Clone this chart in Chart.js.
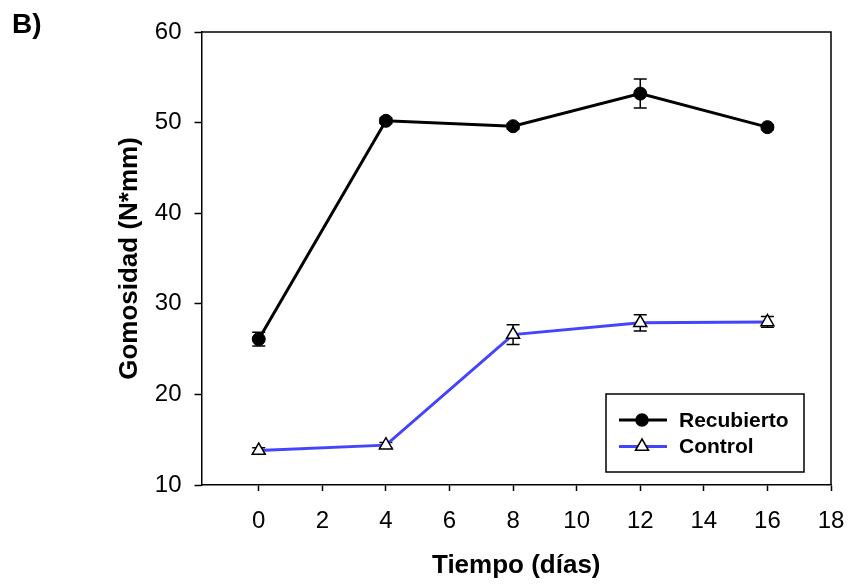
<!DOCTYPE html>
<html>
<head>
<meta charset="utf-8">
<script src="https://cdn.jsdelivr.net/npm/chart.js@4/dist/chart.umd.min.js"></script>
<style>
  body { margin: 0; background: #fff; }
  canvas { display: block; }
</style>
</head>
<body>
<canvas id="gomosidad" width="852" height="584"></canvas>
<script>
// datos
const dias = [0, 4, 8, 12, 16];
const recubierto = [26.1, 50.2, 49.6, 53.2, 49.5];
const recubiertoErr = [0.75, 0.3, 0.3, 1.6, 0.25];
const control = [13.8, 14.4, 26.6, 27.9, 28.0];
const controlErr = [0.3, 0.3, 1.1, 0.9, 0.6];
const xTicks = [0, 2, 4, 6, 8, 10, 12, 14, 16, 18];
const yTicks = [10, 20, 30, 40, 50, 60];

const fuente = "'Liberation Sans', Arial, sans-serif";

// barras de error, marco, leyenda y letra del panel
const extras = {
  id: 'extras',
  beforeDatasetsDraw(chart) {
    const ctx = chart.ctx;
    const x = chart.scales.x, y = chart.scales.y;
    const errores = [recubiertoErr, controlErr];
    ctx.save();
    ctx.strokeStyle = '#000';
    ctx.lineWidth = 1.5;
    chart.data.datasets.forEach((ds, i) => {
      ds.data.forEach((p, j) => {
        const px = x.getPixelForValue(p.x);
        const y1 = y.getPixelForValue(p.y + errores[i][j]);
        const y2 = y.getPixelForValue(p.y - errores[i][j]);
        ctx.beginPath();
        ctx.moveTo(px, y1); ctx.lineTo(px, y2);
        ctx.moveTo(px - 6.5, y1); ctx.lineTo(px + 6.5, y1);
        ctx.moveTo(px - 6.5, y2); ctx.lineTo(px + 6.5, y2);
        ctx.stroke();
      });
    });
    ctx.restore();
  },
  afterDraw(chart) {
    const ctx = chart.ctx;
    const a = chart.chartArea;
    ctx.save();
    // marco superior y derecho
    ctx.strokeStyle = '#000';
    ctx.lineWidth = 1.5;
    ctx.beginPath();
    ctx.moveTo(a.left, a.top); ctx.lineTo(a.right, a.top); ctx.lineTo(a.right, a.bottom);
    ctx.stroke();
    // leyenda
    const lx = a.right - 225, ly = a.bottom - 91;
    ctx.strokeRect(lx, ly, 198, 78);
    chart.data.datasets.forEach((ds, i) => {
      const yy = ly + 26 + i * 26.5;
      ctx.strokeStyle = ds.borderColor;
      ctx.lineWidth = 3;
      ctx.beginPath();
      ctx.moveTo(lx + 13, yy); ctx.lineTo(lx + 61, yy);
      ctx.stroke();
      ctx.fillStyle = ds.pointBackgroundColor;
      ctx.strokeStyle = '#000';
      ctx.lineWidth = 1.5;
      ctx.beginPath();
      if (ds.pointStyle === 'circle') {
        ctx.arc(lx + 36, yy, 6, 0, Math.PI * 2);
      } else {
        ctx.moveTo(lx + 36, yy - 7.5);
        ctx.lineTo(lx + 36 + 6.5, yy + 3.75);
        ctx.lineTo(lx + 36 - 6.5, yy + 3.75);
        ctx.closePath();
      }
      ctx.fill(); ctx.stroke();
      ctx.fillStyle = '#000';
      ctx.font = 'bold 21px ' + fuente;
      ctx.textBaseline = 'middle';
      ctx.fillText(ds.label, lx + 73, yy + 1);
    });
    ctx.fillStyle = '#000';
    ctx.font = 'bold 28px ' + fuente;
    ctx.textBaseline = 'top';
    ctx.fillText('B)', 12, 11);
    ctx.restore();
  }
};

const ctx = document.getElementById('gomosidad').getContext('2d');
new Chart(ctx, {
  type: 'line',
  data: {
    datasets: [{
      label: 'Recubierto',
      data: dias.map((d, i) => ({ x: d, y: recubierto[i] })),
      borderColor: '#000',
      borderWidth: 3,
      pointStyle: 'circle',
      pointRadius: 6.5,
      pointBackgroundColor: '#000',
      pointBorderColor: '#000',
      pointBorderWidth: 1,
      tension: 0
    }, {
      label: 'Control',
      data: dias.map((d, i) => ({ x: d, y: control[i] })),
      borderColor: '#4444ff',
      borderWidth: 3,
      pointStyle: 'triangle',
      pointRadius: 7.5,
      pointBackgroundColor: '#fff',
      pointBorderColor: '#000',
      pointBorderWidth: 1.5,
      tension: 0
    }]
  },
  options: {
    responsive: false,
    animation: false,
    layout: { padding: { top: 32, right: 21, left: 0, bottom: 0 } },
    plugins: {
      legend: { display: false },
      tooltip: { enabled: false },
      title: { display: false }
    },
    scales: {
      x: {
        type: 'linear',
        min: -1.8,
        max: 18,
        afterBuildTicks: s => { s.ticks = xTicks.map(v => ({ value: v })); },
        afterFit: s => { s.height = 99; s.paddingLeft = 0; s.paddingRight = 0; },
        grid: { drawOnChartArea: false, drawTicks: true, tickLength: 6, color: '#000', tickWidth: 1.5 },
        border: { display: true, color: '#000', width: 1.5 },
        ticks: { color: '#000', padding: 16, maxRotation: 0, font: { family: fuente, size: 24 } },
        title: {
          display: true,
          text: 'Tiempo (días)',
          color: '#000',
          font: { family: fuente, size: 26, weight: 'bold' },
          padding: { top: 0, bottom: 3 }
        }
      },
      y: {
        min: 10,
        max: 60,
        afterBuildTicks: s => { s.ticks = yTicks.map(v => ({ value: v })); },
        afterFit: s => { s.width = 201.5; s.paddingTop = 0; s.paddingBottom = 0; },
        grid: { drawOnChartArea: false, drawTicks: true, tickLength: 7, color: '#000', tickWidth: 1.5 },
        border: { display: true, color: '#000', width: 1.5 },
        ticks: { color: '#000', padding: 13, font: { family: fuente, size: 24 } },
        title: {
          display: true,
          text: 'Gomosidad (N*mm)',
          color: '#000',
          font: { family: fuente, size: 26, weight: 'bold' },
          padding: { top: 114, bottom: 0 }
        }
      }
    }
  },
  plugins: [extras]
});
</script>
</body>
</html>
